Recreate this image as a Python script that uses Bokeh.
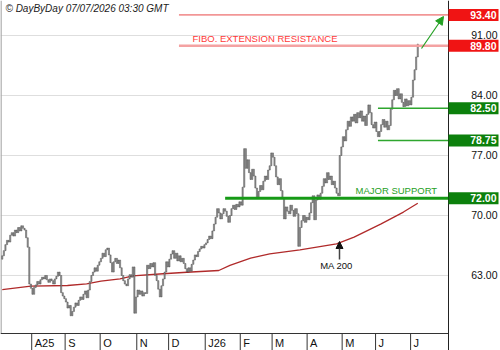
import pandas as pd
from bokeh.plotting import figure
from bokeh.models import Range1d, Arrow, NormalHead
from bokeh.core.properties import value
from bokeh.embed import file_html
from bokeh.resources import INLINE

# ---------------- data ----------------
last_date = "2026-07-07"
first_open = 64.9
close = [
    65.3, 65.9, 66.6, 67.1, 66.9, 67.7, 68.0, 67.6, 68.3, 68.0,
    68.6, 68.2, 68.8, 68.5, 68.3, 67.4, 66.3, 62.0, 61.5, 60.8,
    61.6, 61.9, 62.3, 62.0, 62.5, 62.8, 62.6, 63.0, 62.5, 62.2,
    62.6, 62.4, 62.0, 62.6, 62.9, 63.4, 63.0, 61.0, 60.6, 60.3,
    59.9, 59.2, 59.5, 58.3, 58.8, 59.3, 59.8, 59.5, 60.1, 60.5,
    60.2, 60.8, 61.2, 60.4, 61.3, 62.3, 63.0, 63.4, 63.9, 63.5,
    64.2, 64.6, 65.0, 65.6, 65.2, 66.0, 66.2, 65.4, 64.5, 63.4,
    64.6, 65.0, 64.4, 64.8, 63.9, 63.0, 62.4, 62.0, 61.8, 62.6,
    63.1, 62.8, 64.0, 58.6, 60.5, 61.3, 60.8, 61.2, 60.6, 61.0,
    60.9, 64.2, 63.8, 64.4, 64.0, 64.5, 63.0, 62.4, 61.4, 60.5,
    61.8, 62.6, 63.4, 64.6, 64.0, 64.9, 65.5, 65.9, 65.0, 65.6,
    64.7, 65.3, 64.6, 65.0, 64.4, 63.8, 63.4, 63.9, 63.5, 64.3,
    64.8, 65.4, 65.2, 65.8, 66.1, 66.4, 66.2, 66.6, 66.8, 67.2,
    67.6, 67.3, 68.2, 69.0, 69.8, 70.8, 70.3, 69.6, 70.2, 70.8,
    70.5, 69.9, 69.2, 70.0, 70.8, 71.2, 70.7, 71.3, 71.0, 71.6,
    71.2, 73.3, 77.8, 75.5, 76.5, 75.0, 74.2, 75.4, 74.6, 73.2,
    72.0, 72.8, 73.5, 73.0, 74.0, 74.6, 74.2, 75.3, 75.8, 77.3,
    76.8, 75.8, 74.5, 73.6, 74.3, 72.9, 72.0, 69.6, 71.0, 70.5,
    70.2, 71.2, 70.6, 69.9, 70.8, 70.2, 66.4, 68.6, 69.4, 70.0,
    69.2, 69.8, 69.5, 70.3, 71.5, 72.3, 69.5, 71.8, 72.4, 71.9,
    72.6, 73.4, 74.3, 73.8, 75.0, 74.2, 74.6, 73.6, 74.0, 73.2,
    72.6, 72.3, 77.0, 78.0, 79.2, 78.7, 80.0, 81.0, 80.4, 81.5,
    81.0, 81.8, 80.8, 82.0, 81.4, 82.2, 81.0, 81.6, 80.5, 81.8,
    82.9, 82.0, 80.6, 80.2, 80.9, 79.8, 79.2, 79.8, 80.6, 81.2,
    80.3, 81.0, 80.0, 80.5, 82.4, 83.5, 84.6, 84.0, 84.8, 83.6,
    84.2, 83.2, 82.7, 83.6, 82.8, 83.4, 82.9, 83.8, 85.8, 87.0,
    88.5, 90.0,
]

# 200-day moving average, read at a set of bar indices
ma_idx = [0, 18, 41, 53, 62, 74, 82, 101, 116, 136, 143, 156, 168, 187, 210, 221, 238, 252, 261]
ma_val = [61.35, 61.75, 61.83, 62.03, 62.33, 62.61, 62.96, 63.20, 63.38, 63.58,
          64.17, 65.02, 65.53, 66.00, 66.70, 67.47, 69.03, 70.40, 71.43]

month_labels = ["A25", "S", "O", "N", "D", "J26", "F", "M", "A", "M", "J", "J"]
y_ticks = [63, 70, 77, 84, 91]

level_values = [93.40, 89.80, 82.50, 78.75, 72.00]
level_start = [111, 111, 236, 236, 140]          # bar index where each line begins
resistance_levels = [93.40, 89.80]
support_levels = [82.50, 78.75, 72.00]

header = "\u00a9 DayByDay 07/07/2026 03:30 GMT"
fibo_text = "FIBO. EXTENSION RESISTANCE"
support_text = "MAJOR SUPPORT"
ma_text = "MA 200"

# ---------------- layout helpers ----------------
W, H = 500, 350
SX = 1.592          # px per bar
X0 = -1.1           # bar index at left edge
SY = 8.571          # px per price unit
YTOP = 95.083       # price at top edge


def dx(px):
    return X0 + px / SX


def dy(py):
    return YTOP - py / SY


FONT = value("Liberation Sans")
AXIS_X = dx(448)
AXIS_Y = dy(333)

dates = pd.bdate_range(end=last_date, periods=len(close))
idx = list(range(len(close)))
opens = [first_open] + close[:-1]
tops = [max(o, c) for o, c in zip(opens, close)]
bots = [min(o, c) for o, c in zip(opens, close)]
month_starts = [i for i in range(1, len(dates)) if dates[i].month != dates[i - 1].month]

p = figure(width=W, height=H, x_range=Range1d(X0, dx(W)), y_range=Range1d(dy(H), YTOP),
           x_axis_location=None, y_axis_location=None, toolbar_location=None,
           output_backend="svg", min_border=0, outline_line_color=None,
           background_fill_color="white", border_fill_color="white")
p.grid.visible = False

# grid lines
p.segment(x0=[X0] * len(y_ticks), x1=[AXIS_X] * len(y_ticks), y0=y_ticks, y1=y_ticks,
          line_color="#dedede", line_width=1)
# left border
p.segment(x0=[dx(0.5)], x1=[dx(0.5)], y0=[YTOP], y1=[AXIS_Y], line_color="#aaaaaa", line_width=1.5)

# moving average
p.line(ma_idx, ma_val, line_color="#b02a2a", line_width=1.3)

# price bars
p.vbar(x=idx, top=tops, bottom=bots, width=0.75, fill_color="#9c9c9c",
       line_color="#3a3a3a", line_width=0.45)

# level lines
for v, s in zip(level_values, level_start):
    if v in resistance_levels:
        if v == max(resistance_levels):
            col, lw = "#e84a4a", 1
        else:
            col, lw = "#f4a2a2", 2.5
    else:
        if v == min(support_levels):
            col, lw = "#169a16", 3
        else:
            col, lw = "#2ea62e", 1.5
    p.segment(x0=[s], x1=[AXIS_X], y0=[v], y1=[v], line_color=col, line_width=lw)

# annotation texts
p.text(x=[dx(192)], y=[dy(38)], text=[fibo_text],
       text_font=FONT, text_font_size="9.5px", text_color="#ff3838",
       text_align="left", text_baseline="middle")
p.text(x=[dx(355)], y=[dy(189.5)], text=[support_text],
       text_font=FONT, text_font_size="9.5px", text_color="#25a025",
       text_align="left", text_baseline="middle")
p.text(x=[dx(336)], y=[dy(264.5)], text=[ma_text],
       text_font=FONT, text_font_size="9.5px", text_color="#111111",
       text_align="center", text_baseline="middle")
p.text(x=[dx(5)], y=[dy(7.5)], text=[header],
       text_font=FONT, text_font_size="10px", text_font_style="italic",
       text_color="#222222", text_align="left", text_baseline="middle")

# arrows
p.add_layout(Arrow(end=NormalHead(size=7, fill_color="#111111", line_color="#111111"),
                   x_start=dx(339), y_start=dy(259), x_end=dx(339), y_end=dy(241),
                   line_color="#444444", line_width=1.5))
p.add_layout(Arrow(end=NormalHead(size=8, fill_color="#22a022", line_color="#22a022"),
                   x_start=dx(421), y_start=dy(48), x_end=dx(443), y_end=dy(16),
                   line_color="#22a022", line_width=1.2))

# bottom axis
p.segment(x0=[X0], x1=[AXIS_X], y0=[AXIS_Y], y1=[AXIS_Y], line_color="#333333", line_width=1)
seps = [m - 0.5 for m in month_starts]
p.segment(x0=seps, x1=seps, y0=[AXIS_Y] * len(seps), y1=[dy(H)] * len(seps),
          line_color="#333333", line_width=1)
labs = month_labels[:len(seps)]
p.text(x=[s + 3 / SX for s in seps[:len(labs)]], y=[dy(342)] * len(labs), text=labs,
       text_font=FONT, text_font_size="11px", text_color="#111111",
       text_align="left", text_baseline="middle")

# right axis
p.segment(x0=[AXIS_X], x1=[AXIS_X], y0=[YTOP], y1=[dy(H)], line_color="#222222", line_width=1)
p.text(x=[dx(497)] * len(y_ticks), y=y_ticks, text=["%.2f" % t for t in y_ticks],
       text_font=FONT, text_font_size="10.5px", text_color="#111111",
       text_align="right", text_baseline="middle")
box_cols = ["#f01414" if v in resistance_levels else "#0c800c" for v in level_values]
p.quad(left=[AXIS_X] * len(level_values), right=[dx(498)] * len(level_values),
       top=[v + 6 / SY for v in level_values], bottom=[v - 6 / SY for v in level_values],
       fill_color=box_cols, line_color=None)
p.text(x=[dx(496)] * len(level_values), y=level_values, text=["%.2f" % v for v in level_values],
       text_font=FONT, text_font_size="10.5px", text_font_style="bold", text_color="white",
       text_align="right", text_baseline="middle")

open("out.html", "w").write(file_html(p, INLINE))
